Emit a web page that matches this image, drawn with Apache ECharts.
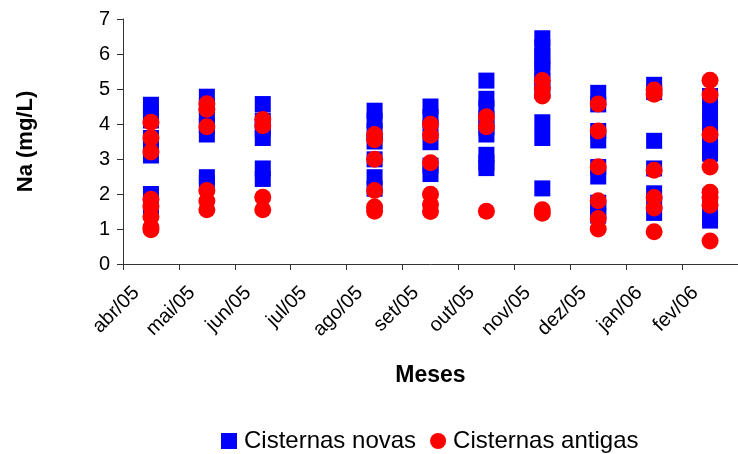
<!DOCTYPE html>
<html>
<head>
    <meta charset="utf-8">
    <title>Na (mg/L)</title>
    <script src="https://cdn.jsdelivr.net/npm/echarts@6/dist/echarts.min.js"></script>
</head>
<body style="margin:0">
    <div id="main" style="width: 738px;height:454px;"></div>
    <script type="text/javascript">
        var myChart = echarts.init(document.getElementById('main'));

        var months = ['abr/05', 'mai/05', 'jun/05', 'jul/05', 'ago/05', 'set/05',
                      'out/05', 'nov/05', 'dez/05', 'jan/06', 'fev/06'];

        // Cisternas novas, one list per month
        var novas = [
            [4.55, 4.3, 4.1, 3.6, 3.35, 3.1, 2.0, 1.75, 1.5],
            [4.78, 4.5, 4.2, 3.95, 3.7, 2.48, 2.3],
            [4.57, 4.1, 3.85, 3.6, 2.73, 2.43],
            [],
            [4.38, 4.1, 3.8, 3.5, 2.99, 2.48, 2.15],
            [4.5, 4.2, 3.9, 3.48, 2.81, 2.57],
            [5.24, 4.72, 4.45, 4.15, 3.9, 3.7, 3.12, 2.9, 2.74],
            [6.45, 6.2, 5.95, 5.75, 5.55, 5.25, 4.95, 4.05, 3.6, 2.16],
            [4.89, 4.56, 3.8, 3.53, 2.77, 2.5, 1.75, 1.55, 1.38],
            [5.12, 4.91, 3.52, 2.73, 2.02, 1.75, 1.46],
            [4.8, 4.4, 4.0, 3.6, 3.3, 3.15, 1.93, 1.4, 1.24]
        ];

        // Cisternas antigas, one list per month
        var antigas = [
            [4.05, 3.6, 3.2, 1.85, 1.65, 1.35, 1.05, 0.98],
            [4.58, 4.42, 3.92, 2.1, 1.8, 1.55],
            [4.13, 3.95, 1.91, 1.55],
            [],
            [3.7, 3.55, 2.99, 2.1, 1.63, 1.51],
            [3.99, 3.68, 2.89, 1.99, 1.7, 1.5],
            [4.21, 3.92, 1.51],
            [5.24, 5.0, 4.8, 1.55, 1.45],
            [4.57, 3.8, 2.78, 1.81, 1.3, 1.0],
            [4.97, 4.85, 2.68, 1.9, 1.6, 0.92],
            [5.25, 4.83, 3.7, 2.77, 2.05, 1.9, 1.68, 0.66]
        ];

        function toPoints(lists) {
            var pts = [];
            lists.forEach(function (vals, i) {
                vals.forEach(function (v) {
                    pts.push([months[i], v]);
                });
            });
            return pts;
        }

        var font = 'Liberation Sans';

        option = {
            animation: false,
            backgroundColor: '#fff',
            textStyle: { fontFamily: font },
            grid: {
                left: 123,
                right: -10,
                top: 19,
                bottom: 190
            },
            legend: {
                left: 216,
                top: 424,
                itemGap: 14,
                itemWidth: 16,
                itemHeight: 16,
                textStyle: { fontSize: 24, color: '#000', fontFamily: font, padding: [0, 0, 0, 2] },
                data: ['Cisternas novas', 'Cisternas antigas']
            },
            xAxis: {
                type: 'category',
                data: months,
                name: 'Meses',
                nameLocation: 'middle',
                nameGap: 100,
                nameTextStyle: { fontSize: 23, fontWeight: 'bold', color: '#000', fontFamily: font },
                axisLine: { lineStyle: { color: '#333', width: 1 } },
                axisTick: { show: true, alignWithLabel: false, length: 6, lineStyle: { color: '#333' } },
                axisLabel: {
                    interval: 0,
                    rotate: 45,
                    margin: 11,
                    padding: [0, 21, 0, 0],
                    fontSize: 20,
                    color: '#000',
                    fontFamily: font
                },
                splitLine: { show: false }
            },
            yAxis: {
                type: 'value',
                min: 0,
                max: 7,
                interval: 1,
                name: 'Na (mg/L)',
                nameLocation: 'middle',
                nameGap: 86,
                nameTextStyle: { fontSize: 22, fontWeight: 'bold', color: '#000', fontFamily: font },
                axisLine: { show: true, lineStyle: { color: '#333', width: 1 } },
                axisTick: { show: true, length: 6, lineStyle: { color: '#333' } },
                axisLabel: { fontSize: 20, color: '#000', margin: 13, fontFamily: font },
                splitLine: { show: false }
            },
            series: [{
                name: 'Cisternas novas',
                type: 'scatter',
                symbol: 'rect',
                symbolSize: 16,
                itemStyle: { color: '#0000ff', opacity: 1 },
                z: 2,
                data: toPoints(novas)
            }, {
                name: 'Cisternas antigas',
                type: 'scatter',
                symbol: 'circle',
                symbolSize: 17,
                itemStyle: { color: '#ff0000', opacity: 1 },
                z: 3,
                data: toPoints(antigas)
            }]
        };

        myChart.setOption(option);
    </script>
</body>
</html>
